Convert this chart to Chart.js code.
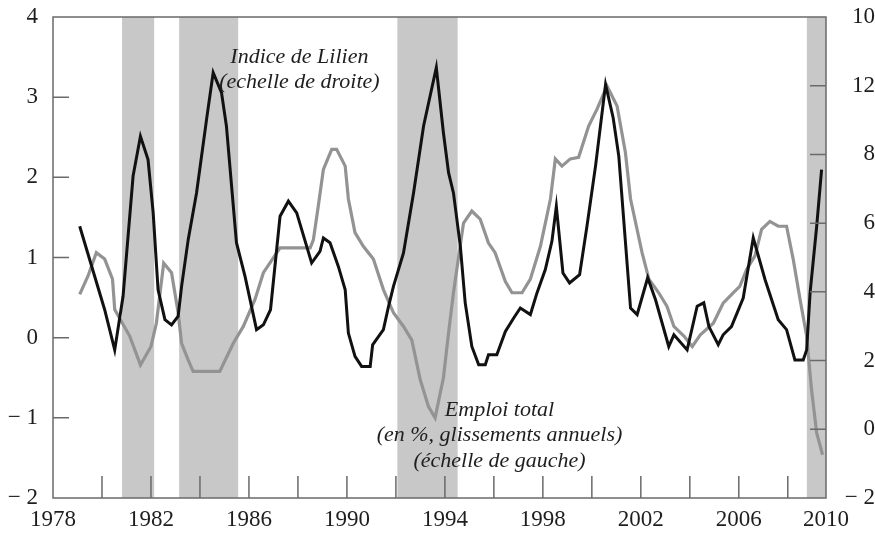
<!DOCTYPE html>
<html>
<head>
<meta charset="utf-8">
<title>Emploi total et indice de Lilien</title>
<script src="https://cdn.jsdelivr.net/npm/chart.js"></script>
<style>
  body { margin: 0; background: #fff; }
</style>
</head>
<body>
<canvas id="lilienChart" width="875" height="535"></canvas>

<script>
// values, dates as decimal years
const lilienYears = [1979.09, 1980.11, 1980.52, 1980.86, 1981.27, 1981.57, 1981.88, 1982.09, 1982.29, 1982.57,
  1982.84, 1983.11, 1983.25, 1983.52, 1983.86, 1984.27, 1984.54, 1984.88, 1985.08, 1985.49,
  1985.84, 1986.31, 1986.59, 1986.88, 1987.27, 1987.61, 1987.95, 1988.56, 1988.90, 1989.04,
  1989.31, 1989.65, 1989.93, 1990.06, 1990.33, 1990.60, 1990.95, 1991.05, 1991.49, 1991.70,
  1991.90, 1992.31, 1992.72, 1993.13, 1993.65, 1993.94, 1994.15, 1994.35, 1994.63, 1994.83,
  1995.10, 1995.38, 1995.65, 1995.78, 1996.12, 1996.47, 1996.81, 1997.08, 1997.49, 1997.76,
  1998.10, 1998.37, 1998.55, 1998.82, 1999.09, 1999.50, 1999.80, 2000.15, 2000.56, 2000.87,
  2001.10, 2001.58, 2001.85, 2002.28, 2002.60, 2003.14, 2003.35, 2003.89, 2004.30, 2004.57,
  2004.78, 2005.16, 2005.36, 2005.70, 2006.18, 2006.59, 2007.07, 2007.61, 2007.95, 2008.29,
  2008.63, 2008.77, 2008.91, 2009.18, 2009.38];
const lilienValues = [5.91, 3.48, 2.31, 3.87, 7.37, 8.53, 7.85, 6.30, 4.06, 3.19,
  3.04, 3.29, 4.16, 5.52, 6.88, 9.02, 10.38, 9.80, 8.83, 5.43,
  4.45, 2.90, 3.04, 3.48, 6.20, 6.64, 6.30, 4.84, 5.18, 5.57,
  5.43, 4.74, 4.06, 2.80, 2.12, 1.83, 1.83, 2.46, 2.90, 3.58,
  4.16, 5.13, 6.88, 8.83, 10.53, 8.63, 7.47, 6.88, 5.33, 3.68,
  2.41, 1.88, 1.88, 2.17, 2.17, 2.85, 3.24, 3.53, 3.34, 3.97,
  4.65, 5.47, 6.49, 4.55, 4.26, 4.50, 5.91, 7.66, 10.04, 9.07,
  7.95, 3.53, 3.34, 4.41, 3.77, 2.41, 2.75, 2.31, 3.58, 3.68,
  2.99, 2.46, 2.75, 2.99, 3.82, 5.57, 4.36, 3.19, 2.90, 2.02,
  2.02, 2.31, 3.97, 5.91, 7.56];

const emploiYears = [1979.09, 1979.43, 1979.77, 1980.11, 1980.43, 1980.52, 1981.13, 1981.57, 1982.00, 1982.22,
  1982.52, 1982.84, 1983.11, 1983.25, 1983.52, 1983.72, 1984.81, 1985.36, 1985.77, 1986.25,
  1986.59, 1987.27, 1988.50, 1988.63, 1988.83, 1989.04, 1989.38, 1989.58, 1989.93, 1990.06,
  1990.33, 1990.67, 1991.08, 1991.49, 1991.90, 1992.31, 1992.65, 1992.99, 1993.33, 1993.60,
  1993.94, 1994.15, 1994.35, 1994.76, 1995.10, 1995.44, 1995.78, 1996.05, 1996.47, 1996.74,
  1997.15, 1997.49, 1997.90, 1998.31, 1998.51, 1998.78, 1999.12, 1999.46, 1999.87, 2000.21,
  2000.62, 2001.03, 2001.37, 2001.58, 2002.05, 2002.33, 2002.73, 2003.07, 2003.35, 2003.76,
  2004.10, 2004.44, 2004.96, 2005.36, 2005.77, 2006.04, 2006.32, 2006.66, 2006.93, 2007.27,
  2007.61, 2007.95, 2008.22, 2008.50, 2008.77, 2008.97, 2009.18, 2009.42];
const emploiValues = [0.54, 0.77, 1.06, 0.98, 0.73, 0.35, 0.02, -0.34, -0.11, 0.18,
  0.93, 0.81, 0.31, -0.07, -0.28, -0.42, -0.42, -0.07, 0.14, 0.48,
  0.81, 1.12, 1.12, 1.22, 1.64, 2.10, 2.35, 2.35, 2.14, 1.73,
  1.31, 1.14, 0.98, 0.60, 0.31, 0.14, -0.03, -0.52, -0.86, -1.00,
  -0.50, 0.06, 0.56, 1.43, 1.58, 1.48, 1.18, 1.06, 0.70, 0.56,
  0.56, 0.73, 1.14, 1.73, 2.23, 2.14, 2.23, 2.25, 2.64, 2.85,
  3.14, 2.89, 2.31, 1.73, 1.06, 0.73, 0.56, 0.39, 0.14, 0.02,
  -0.11, 0.04, 0.18, 0.43, 0.56, 0.64, 0.85, 1.02, 1.35, 1.45,
  1.39, 1.39, 0.98, 0.48, 0.02, -0.65, -1.19, -1.46];

// grey bands (recessions)
const recessionStart = [1980.82, 1983.15, 1992.06, 2008.78];
const recessionEnd = [1982.13, 1985.56, 1994.52, 2009.56];

// axes
const xMin = 1978, xMax = 2009.56;
const xTickYears = [1978, 1980, 1982, 1984, 1986, 1988, 1990, 1992, 1994, 1996, 1998, 2000, 2002, 2004, 2006, 2008];
const xLabelYears = [1978, 1982, 1986, 1990, 1994, 1998, 2002, 2006];
const xLastLabel = '2010';
const leftTicks = [-2, -1, 0, 1, 2, 3, 4];
const leftTickLabels = ['\u2212 2', '\u2212 1', '0', '1', '2', '3', '4'];
const rightTicks = [-2, 0, 2, 4, 6, 8, 10, 12];
const rightTickLabels = ['\u2212 2', '0', '2', '4', '6', '8', '12', '10']; // as printed on the original

const serif = "'Liberation Serif', 'Times New Roman', serif";
const textColor = '#1e1e1e';
const frameColor = '#6a6a6a';

const notes = [
  { year: 1988.06, value: 3.5, lines: ['Indice de Lilien', '(echelle de droite)'] },
  { year: 1996.23, value: -0.9, lines: ['Emploi total', '(en %, glissements annuels)', '(échelle de gauche)'] }
];

const toPoints = (xs, ys) => xs.map((x, i) => ({ x: x, y: ys[i] }));

// shading, frame, inner tick marks, labels in the plot
const decorations = {
  id: 'decorations',
  beforeDatasetsDraw(chart) {
    const { ctx, chartArea: a, scales: { x } } = chart;
    ctx.save();
    ctx.fillStyle = '#c8c8c8';
    recessionStart.forEach((s, i) => {
      const x0 = x.getPixelForValue(s);
      const x1 = x.getPixelForValue(recessionEnd[i]);
      ctx.fillRect(x0, a.top, x1 - x0, a.bottom - a.top);
    });
    ctx.restore();
  },
  afterDatasetsDraw(chart) {
    const { ctx, chartArea: a, scales: { x, y, y2 } } = chart;
    ctx.save();
    ctx.strokeStyle = frameColor;
    ctx.lineWidth = 1.5;
    ctx.strokeRect(a.left, a.top, a.right - a.left, a.bottom - a.top);

    ctx.beginPath();
    xTickYears.slice(1).forEach(v => {
      const px = x.getPixelForValue(v);
      ctx.moveTo(px, a.bottom);
      ctx.lineTo(px, a.bottom - 22);
    });
    leftTicks.slice(1, -1).forEach(v => {
      const py = y.getPixelForValue(v);
      ctx.moveTo(a.left, py);
      ctx.lineTo(a.left + 16, py);
    });
    rightTicks.slice(1, -1).forEach(v => {
      const py = y2.getPixelForValue(v);
      ctx.moveTo(a.right, py);
      ctx.lineTo(a.right - 16, py);
    });
    ctx.stroke();

    ctx.fillStyle = textColor;
    ctx.font = 'italic 22px ' + serif;
    ctx.textAlign = 'center';
    ctx.textBaseline = 'middle';
    notes.forEach(n => {
      const px = x.getPixelForValue(n.year);
      const py = y.getPixelForValue(n.value);
      n.lines.forEach((t, i) => ctx.fillText(t, px, py + i * 25.5));
    });
    ctx.restore();
  }
};

const tickFont = { family: serif, size: 23 };

// vertical axes: fixed width, and no extra top/bottom room for the labels
const fitSide = w => s => { s.width = w; s.paddingTop = 0; s.paddingBottom = 0; };

new Chart(document.getElementById('lilienChart').getContext('2d'), {
  type: 'line',
  data: {
    datasets: [{
      label: 'Indice de Lilien',
      data: toPoints(lilienYears, lilienValues),
      yAxisID: 'y2',
      borderColor: '#111111',
      borderWidth: 3,
      pointRadius: 0,
      tension: 0
    }, {
      label: 'Emploi total',
      data: toPoints(emploiYears, emploiValues),
      yAxisID: 'y',
      borderColor: '#939393',
      borderWidth: 3.2,
      pointRadius: 0,
      tension: 0
    }]
  },
  options: {
    responsive: false,
    animation: false,
    devicePixelRatio: 1,
    layout: { padding: { top: 17, left: 0, right: 0, bottom: 0 } },
    plugins: { legend: { display: false }, tooltip: { enabled: false } },
    scales: {
      x: {
        type: 'linear',
        min: xMin,
        max: xMax,
        afterBuildTicks: s => { s.ticks = xTickYears.concat([xMax]).map(v => ({ value: v })); },
        afterFit: s => { s.height = 37; },
        grid: { display: false, drawTicks: false },
        border: { display: false },
        ticks: {
          autoSkip: false,
          maxRotation: 0,
          padding: 8,
          color: textColor,
          font: tickFont,
          callback: v => v === xMax ? xLastLabel : (xLabelYears.includes(v) ? String(v) : '')
        }
      },
      y: {
        position: 'left',
        min: -2,
        max: 4,
        afterBuildTicks: s => { s.ticks = leftTicks.map(v => ({ value: v })); },
        afterFit: fitSide(53),
        grid: { display: false, drawTicks: false },
        border: { display: false },
        ticks: {
          padding: 15,
          color: textColor,
          font: tickFont,
          callback: v => leftTickLabels[leftTicks.indexOf(v)]
        }
      },
      y2: {
        position: 'right',
        min: -2,
        max: 12,
        afterBuildTicks: s => { s.ticks = rightTicks.map(v => ({ value: v })); },
        afterFit: fitSide(49),
        grid: { display: false, drawTicks: false },
        border: { display: false },
        ticks: {
          padding: 15,
          crossAlign: 'far',
          color: textColor,
          font: tickFont,
          callback: v => rightTickLabels[rightTicks.indexOf(v)]
        }
      }
    }
  },
  plugins: [decorations]
});
</script>
</body>
</html>
